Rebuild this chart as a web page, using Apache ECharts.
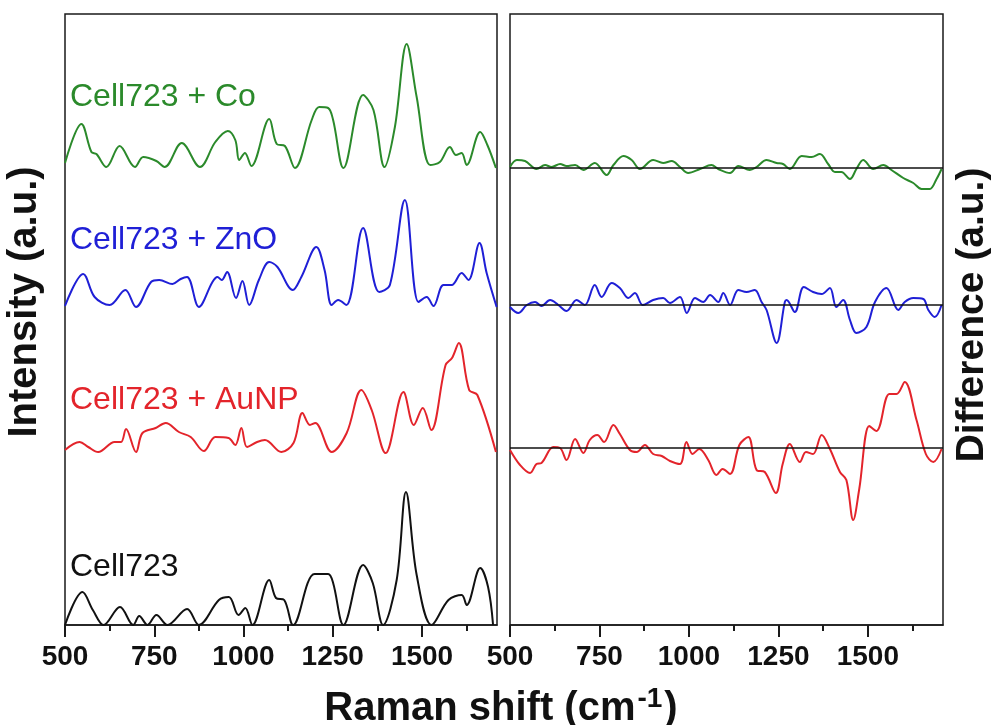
<!DOCTYPE html>
<html>
<head>
<meta charset="utf-8">
<script src="https://cdn.jsdelivr.net/npm/echarts@6/dist/echarts.min.js"></script>
<style>
  html, body { margin: 0; padding: 0; background: #fff; }
  #chart { width: 994px; height: 725px; }
</style>
</head>
<body>
<div id="chart"></div>
<script>
// 数据: [拉曼位移 cm-1, 强度 a.u.] (左图已含纵向偏移)
var cellCo = [[500,462],[546,501],[574,473],[588,471],[616,458],[653,479],[696,458],[719,468],[756,464],[779,458],[827,482],[878,458],[921,483],[956,494],[977,485],[988,465],[1004,472],[1022,459],[1072,506],[1093,481],[1116,479],[1144,457],[1191,505],[1212,518],[1237,517],[1251,505],[1280,457],[1335,530],[1364,515],[1395,458],[1424,498],[1457,581],[1485,528],[1523,460],[1550,463],[1578,478],[1595,470],[1611,472],[1625,460],[1663,493],[1683,480],[1707,457]];
var cellZnO = [[500,319],[551,351],[583,328],[625,320],[669,335],[699,318],[741,343],[764,345],[801,341],[824,346],[842,348],[875,318],[913,343],[927,348],[939,345],[954,353],[979,327],[997,344],[1016,320],[1043,345],[1072,363],[1095,358],[1138,335],[1162,348],[1204,378],[1227,355],[1247,320],[1265,325],[1288,320],[1335,397],[1380,333],[1410,340],[1452,425],[1490,323],[1513,328],[1532,319],[1560,340],[1583,340],[1611,352],[1630,345],[1661,382],[1681,352],[1709,318]];
var cellAuNP = [[500,175],[541,183],[565,178],[593,173],[639,183],[657,183],[671,196],[699,173],[717,192],[754,197],[782,202],[819,193],[852,188],[889,174],[921,188],[958,187],[977,180],[994,197],[1010,178],[1038,183],[1060,185],[1106,173],[1140,182],[1165,212],[1186,200],[1201,202],[1247,173],[1289,192],[1330,235],[1359,215],[1398,172],[1448,233],[1477,200],[1502,217],[1526,195],[1566,260],[1584,267],[1603,282],[1632,235],[1655,230],[1707,173]];
var cell = [[500,0],[549,33],[578,15],[608,0],[654,18],[691,0],[708,9],[731,0],[756,10],[787,0],[842,16],[875,0],[931,25],[959,28],[986,10],[1005,17],[1025,0],[1072,45],[1091,27],[1114,25],[1139,0],[1199,51],[1237,51],[1251,42],[1280,0],[1335,60],[1362,42],[1391,0],[1429,45],[1455,133],[1485,50],[1527,0],[1574,25],[1611,30],[1625,20],[1663,57],[1685,38],[1699,0]];

// 差谱 (相对于零线)
var diffCo = [[500,1],[519,8],[542,7],[574,-1],[598,3],[616,1],[640,4],[658,2],[682,3],[705,-2],[737,5],[770,-7],[789,3],[817,12],[840,8],[863,-1],[900,8],[928,5],[952,7],[975,1],[998,-5],[1031,-1],[1063,3],[1082,-1],[1115,-5],[1138,2],[1170,-2],[1189,1],[1217,8],[1245,5],[1263,4],[1282,-1],[1315,12],[1343,11],[1366,14],[1389,4],[1408,-4],[1426,-4],[1450,-11],[1468,-1],[1487,8],[1515,-1],[1543,3],[1566,-2],[1599,-10],[1627,-15],[1650,-21],[1673,-21],[1692,-11],[1706,-1]];
var diffZnO = [[500,-2],[523,-8],[547,0],[570,3],[588,-1],[612,5],[635,0],[658,-6],[686,5],[709,0],[737,20],[756,8],[784,22],[807,17],[831,7],[849,12],[871,0],[900,5],[928,7],[947,2],[975,8],[994,-8],[1017,7],[1040,3],[1059,10],[1082,3],[1096,12],[1115,0],[1138,15],[1161,13],[1184,15],[1203,3],[1217,-5],[1245,-38],[1268,3],[1273,5],[1296,-7],[1321,18],[1347,13],[1371,11],[1394,17],[1412,-2],[1431,5],[1450,-15],[1468,-28],[1496,-22],[1520,3],[1552,17],[1585,-5],[1603,3],[1627,7],[1655,6],[1669,-5],[1687,-12],[1706,0]];
var diffAuNP = [[500,-2],[528,-17],[556,-25],[574,-16],[588,-15],[621,1],[640,0],[658,-12],[682,9],[705,-5],[723,8],[744,13],[763,6],[789,23],[807,14],[835,-2],[854,-4],[877,3],[900,-6],[924,-8],[947,-13],[975,-16],[993,6],[1010,-6],[1029,-1],[1054,-12],[1077,-27],[1094,-21],[1115,-26],[1141,3],[1166,11],[1189,-22],[1212,-24],[1243,-45],[1262,-16],[1282,4],[1310,-14],[1327,-4],[1347,-6],[1371,13],[1394,-1],[1422,-24],[1440,-32],[1459,-72],[1476,-41],[1504,22],[1524,17],[1560,54],[1580,54],[1603,66],[1636,28],[1662,-6],[1683,-14],[1706,-1]];

var seriesNames = ["Cell723 + Co", "Cell723 + ZnO", "Cell723 + AuNP", "Cell723"];
var diffOffsets = [457, 320, 177];
var tickStep = 250;
var minorTicks = [625, 875, 1125, 1375, 1625];

var colors = ["#2b8a2b", "#1f1fd6", "#e3242b", "#111111"];
var FONT = 'Liberation Sans, Arial, sans-serif';

function shift(arr, off) {
    return arr.map(function (p) { return [p[0], p[1] + off]; });
}

// 主轴: 标签+主刻度; 副轴: 次刻度
function mainX(gridIndex) {
    return {
        type: 'value', gridIndex: gridIndex, min: 500, max: 1710, interval: tickStep, position: 'bottom',
        axisLine: { show: true, onZero: false, lineStyle: { color: '#1a1a1a', width: 1.5 } },
        axisTick: { show: true, length: 12, lineStyle: { color: '#1a1a1a', width: 2 } },
        axisLabel: {
            margin: 18, showMaxLabel: false,
            fontSize: 28, fontWeight: 'bold', color: '#111', fontFamily: FONT,
            formatter: function (v) { return v % tickStep === 0 ? String(v) : ''; }
        },
        splitLine: { show: false }
    };
}
function minorX(gridIndex) {
    return {
        type: 'value', gridIndex: gridIndex, min: 500, max: 1710, position: 'bottom',
        axisLine: { show: false, onZero: false },
        axisTick: { show: true, inside: false, length: 6, customValues: minorTicks, lineStyle: { color: '#1a1a1a', width: 2 } },
        axisLabel: { show: false },
        splitLine: { show: false }
    };
}
function hiddenY(gridIndex) {
    return {
        type: 'value', gridIndex: gridIndex, min: 0, max: 611, show: false,
        splitLine: { show: false }
    };
}

function lineSeries(name, data, color, xIdx, yIdx) {
    return {
        name: name, type: 'line', data: data,
        xAxisIndex: xIdx, yAxisIndex: yIdx,
        smooth: 0.35, symbol: 'none',
        lineStyle: { color: color, width: 2 },
        z: 3
    };
}
function diffSeries(name, data, color, off) {
    var s = lineSeries(name, shift(data, off), color, 2, 1);
    s.markLine = {
        silent: true, symbol: 'none', animation: false,
        label: { show: false },
        lineStyle: { color: '#111', type: 'solid', width: 1.5 },
        data: [{ yAxis: off }]
    };
    return s;
}

var labelY = [97, 240, 400, 567];
var graphics = seriesNames.map(function (n, i) {
    return {
        type: 'text', x: 70, y: labelY[i], z: 10,
        style: {
            text: n, fill: colors[i], fontSize: 32, fontFamily: FONT,
            verticalAlign: 'middle', align: 'left'
        }
    };
});
graphics.push({
    type: 'text', x: 25, y: 302, rotation: Math.PI / 2, z: 10,
    style: {
        text: 'Intensity (a.u.)', fill: '#111', fontSize: 40, fontWeight: 'bold', fontFamily: FONT,
        align: 'center', verticalAlign: 'middle'
    }
});
graphics.push({
    type: 'text', x: 972, y: 315, rotation: Math.PI / 2, z: 10,
    style: {
        text: 'Difference (a.u.)', fill: '#111', fontSize: 39, fontWeight: 'bold', fontFamily: FONT,
        align: 'center', verticalAlign: 'middle'
    }
});
graphics.push({
    type: 'text', x: 501, y: 709, z: 10,
    style: {
        text: '{a|Raman shift (cm}{s|-1}{a|)}',
        align: 'center', verticalAlign: 'middle',
        rich: {
            a: { fontSize: 40, fontWeight: 'bold', fill: '#111', fontFamily: FONT },
            s: { fontSize: 28, fontWeight: 'bold', fill: '#111', fontFamily: FONT, padding: [0, 2, 20, 2] }
        }
    }
});

var chart = echarts.init(document.getElementById('chart'));
var option = {
    backgroundColor: '#ffffff',
    animation: false,
    grid: [
        { left: 65, top: 14, width: 432, height: 611, show: true, borderColor: '#1a1a1a', borderWidth: 1.5, backgroundColor: 'transparent' },
        { left: 510, top: 14, width: 433, height: 611, show: true, borderColor: '#1a1a1a', borderWidth: 1.5, backgroundColor: 'transparent' }
    ],
    xAxis: [mainX(0), minorX(0), mainX(1), minorX(1)],
    yAxis: [hiddenY(0), hiddenY(1)],
    series: [
        lineSeries(seriesNames[0], cellCo, colors[0], 0, 0),
        lineSeries(seriesNames[1], cellZnO, colors[1], 0, 0),
        lineSeries(seriesNames[2], cellAuNP, colors[2], 0, 0),
        lineSeries(seriesNames[3], cell, colors[3], 0, 0),
        diffSeries(seriesNames[0], diffCo, colors[0], diffOffsets[0]),
        diffSeries(seriesNames[1], diffZnO, colors[1], diffOffsets[1]),
        diffSeries(seriesNames[2], diffAuNP, colors[2], diffOffsets[2])
    ],
    graphic: graphics
};
chart.setOption(option);
</script>
</body>
</html>
